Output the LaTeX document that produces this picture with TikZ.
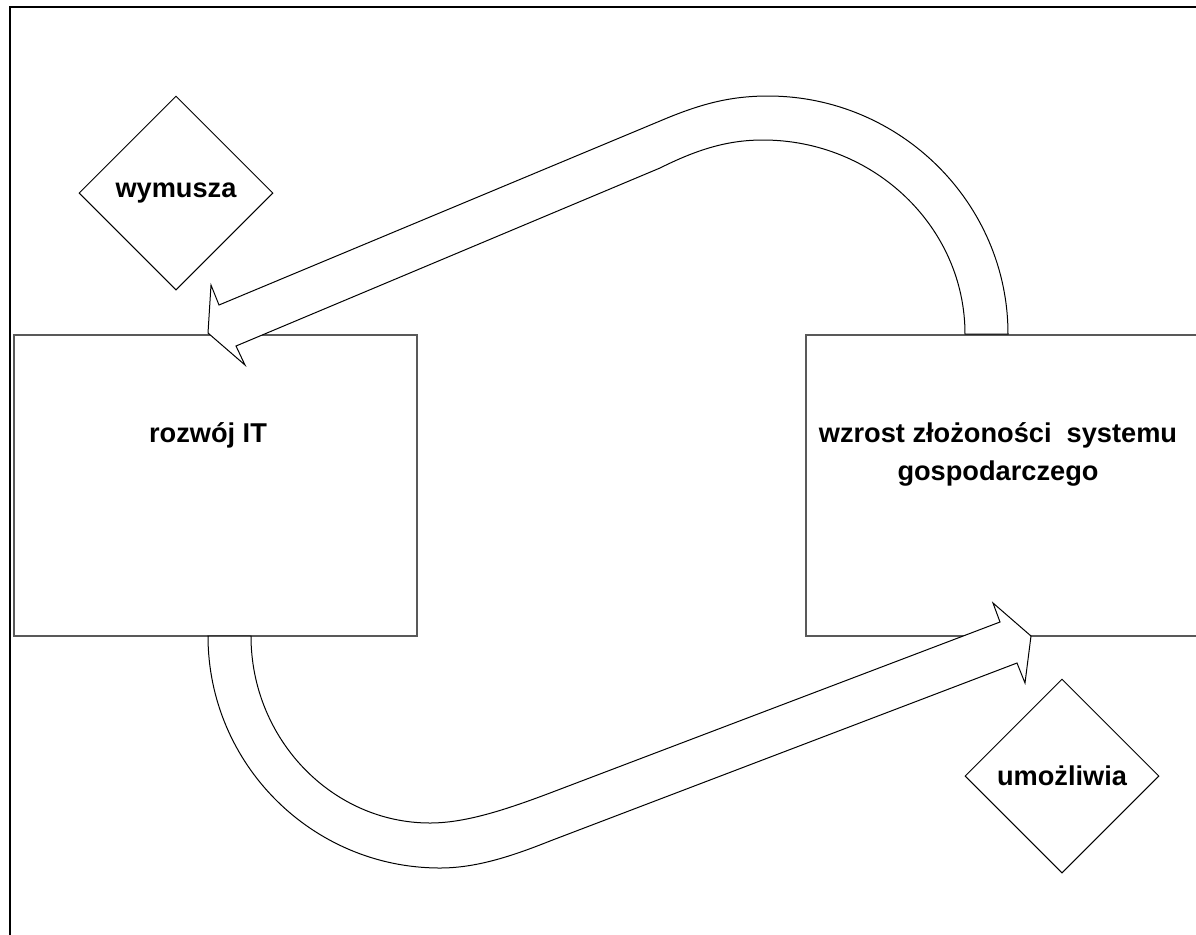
\documentclass[tikz,border=0pt]{standalone}
\usepackage{fontspec}
\setmainfont{Liberation Sans}
\usetikzlibrary{shapes.geometric,calc}
\tikzset{
  blok/.style={draw=black!65, line width=.75pt, rectangle, inner sep=0pt},
  romb/.style={diamond, draw, line width=.5pt, fill=white, aspect=1, inner sep=0pt,
    minimum width=97pt, minimum height=97pt, font=\fontsize{13.6}{19}\selectfont\bfseries},
  opis/.style={align=center, inner sep=0pt, font=\fontsize{13.6}{19}\selectfont\bfseries},
  strzala/.style={draw, line width=.5pt, fill=white, line join=miter}
}
\begin{document}
\begin{tikzpicture}[x=.5pt, y=-.5pt]
        \clip (0,0) rectangle (1196,934);
        \fill[white] (0,0) rectangle (1196,934);
        \draw[line width=1.2pt] (10,940) -- (10,7) -- (1200,7);

        % prostokaty
        \node[blok, minimum width=201.5pt, minimum height=150.5pt, anchor=north west] (it) at (13,334) {};
        \node[blok, minimum width=210pt, minimum height=150.5pt, anchor=north west] (sys) at (805,334) {};

        % strzala gorna: od systemu do IT
        \draw[strzala] (1008,334) .. controls (1008,203) and (900,96) .. (768,96)
              .. controls (730,96) and (700,104) .. (660,121) -- (219,305)
              -- (211,285) -- (208,333) -- (245,365) -- (236,346) -- (660,168)
              .. controls (700,148) and (730,140) .. (763,140)
              .. controls (874,140) and (965,227) .. (965,334) -- cycle;

        % strzala dolna: od IT do systemu
        \draw[strzala] (208,636) .. controls (208,764) and (312,868) .. (440,868)
              .. controls (475,868) and (510,857) .. (550,841) -- (1017,663)
              -- (1025,683) -- (1031,636) -- (993,603) -- (1000,622) -- (550,793)
              .. controls (505,810) and (465,823) .. (430,823)
              .. controls (332,823) and (251,739) .. (251,636) -- cycle;

        % romby
        \node[romb] (wym) at (176,193) {wymusza};
        \node[romb] (umo) at (1062,776) {umożliwia};

        % napisy
        \node[opis] (itlab) at (208,435) {rozwój IT};
        \node[opis] (syslab) at (998,454) {wzrost złożoności~ systemu\\gospodarczego};
\end{tikzpicture}
\end{document}
